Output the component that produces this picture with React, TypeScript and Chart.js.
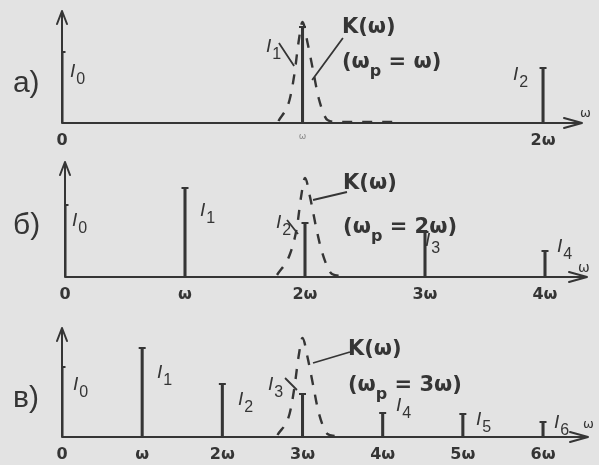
import React, { useEffect, useRef } from "react";
import { Chart, registerables } from "chart.js";

Chart.register(...registerables);

// ---- spectrum data (harmonic number, relative amplitude) ----
// а) circuit tuned to the fundamental
const harmonicsA = [0, 1, 2];
const amplitudesA = [71, 96, 55];
const tickLabelsA = ["0", "ω", "2ω"];
const resonanceFreqA = [0.9, 0.946, 0.967, 0.983, 1.0, 1.021, 1.046, 1.067, 1.104, 1.146, 1.39];
const resonanceGainA = [2, 23, 50, 80, 101, 80, 50, 25, 3, 1, 1];

// б) circuit tuned to the second harmonic
const harmonicsB = [0, 1, 2, 3, 4];
const amplitudesB = [72, 89, 54, 45, 26];
const tickLabelsB = ["0", "ω", "2ω", "3ω", "4ω"];
const resonanceFreqB = [1.767, 1.875, 1.933, 1.967, 2.0, 2.042, 2.092, 2.142, 2.225, 2.3];
const resonanceGainB = [2, 23, 50, 80, 99, 80, 50, 25, 3, 1];

// в) circuit tuned to the third harmonic
const harmonicsC = [0, 1, 2, 3, 4, 5, 6];
const amplitudesC = [70, 89, 53, 43, 24, 23, 15];
const tickLabelsC = ["0", "ω", "2ω", "3ω", "4ω", "5ω", "6ω"];
const resonanceFreqC = [2.688, 2.838, 2.9, 2.95, 3.0, 3.062, 3.137, 3.2, 3.312, 3.4];
const resonanceGainC = [2, 23, 50, 80, 99, 80, 50, 25, 3, 1];

const INK = "#353535";
const BG = "#e3e3e3";
const SANS = "'Liberation Sans', Arial, sans-serif";
const WIDE = "'DejaVu Sans', 'Liberation Sans', sans-serif";

type Seg = { t: string; sub?: boolean; it?: boolean };
type TextItem = {
  u: number;
  h: number;
  segs: Seg[];
  size: number;
  family: string;
  weight: string;
  subRatio: number;
};
type Leader = [number, number, number, number];

type PanelCfg = {
  top: number;
  height: number;
  padding: { left: number; right: number; top: number; bottom: number };
  xMax: number;
  yArrow: number;
  harmonics: number[];
  amplitudes: number[];
  tickLabels: string[];
  kFreq: number[];
  kGain: number[];
  faintTick: number;
  texts: TextItem[];
  leaders: Leader[];
};

// line label "I" with its harmonic index as subscript
const I = (u: number, h: number, n: string): TextItem => ({
  u,
  h,
  segs: [{ t: "I", it: true }, { t: n, sub: true }],
  size: 19,
  family: SANS,
  weight: "normal",
  subRatio: 0.85,
});
const T = (
  u: number,
  h: number,
  segs: Seg[],
  size: number,
  family = WIDE,
  weight = "bold"
): TextItem => ({ u, h, segs, size, family, weight, subRatio: 0.75 });

const panels: PanelCfg[] = [
  {
    top: 0,
    height: 155,
    padding: { left: 62, right: 17, top: 8, bottom: 6 },
    xMax: 2.162,
    yArrow: 112,
    harmonics: harmonicsA,
    amplitudes: amplitudesA,
    tickLabels: tickLabelsA,
    kFreq: resonanceFreqA,
    kGain: resonanceGainA,
    faintTick: 1,
    texts: [
      T(-0.204, 31, [{ t: "а)" }], 30, SANS, "normal"),
      I(0.033, 46, "0"),
      I(0.848, 71, "1"),
      I(1.875, 43, "2"),
      T(1.164, 90, [{ t: "K(ω)" }], 21),
      T(1.164, 55, [{ t: "(ω" }, { t: "p", sub: true }, { t: " = ω)" }], 21),
      T(2.154, 6, [{ t: "ω" }], 13, WIDE, "normal"),
    ],
    leaders: [
      [1.168, 85, 1.04, 43],
      [0.902, 80, 0.965, 57],
    ],
  },
  {
    top: 155,
    height: 155,
    padding: { left: 65, right: 12, top: 7, bottom: 7 },
    xMax: 4.35,
    yArrow: 115,
    harmonics: harmonicsB,
    amplitudes: amplitudesB,
    tickLabels: tickLabelsB,
    kFreq: resonanceFreqB,
    kGain: resonanceGainB,
    faintTick: -1,
    texts: [
      T(-0.433, 43, [{ t: "б)" }], 30, SANS, "normal"),
      I(0.058, 51, "0"),
      I(1.125, 61, "1"),
      I(1.758, 49, "2"),
      I(3.0, 31, "3"),
      I(4.1, 25, "4"),
      T(2.317, 88, [{ t: "K(ω)" }], 21),
      T(2.317, 44, [{ t: "(ω" }, { t: "p", sub: true }, { t: " = 2ω)" }], 21),
      T(4.275, 5, [{ t: "ω" }], 14, WIDE, "normal"),
    ],
    leaders: [
      [2.35, 85, 2.067, 77],
      [1.85, 57, 1.942, 43],
    ],
  },
  {
    top: 310,
    height: 155,
    padding: { left: 62, right: 11, top: 12, bottom: 2 },
    xMax: 6.561,
    yArrow: 109,
    harmonics: harmonicsC,
    amplitudes: amplitudesC,
    tickLabels: tickLabelsC,
    kFreq: resonanceFreqC,
    kGain: resonanceGainC,
    faintTick: -1,
    texts: [
      T(-0.611, 30, [{ t: "в)" }], 30, SANS, "normal"),
      I(0.137, 47, "0"),
      I(1.185, 59, "1"),
      I(2.195, 32, "2"),
      I(2.57, 47, "3"),
      I(4.166, 26, "4"),
      I(5.164, 12, "5"),
      I(6.137, 9, "6"),
      T(3.567, 82, [{ t: "K(ω)" }], 21),
      T(3.567, 46, [{ t: "(ω" }, { t: "p", sub: true }, { t: " = 3ω)" }], 21),
      T(6.5, 9, [{ t: "ω" }], 13, WIDE, "normal"),
    ],
    leaders: [
      [3.592, 85, 3.131, 74],
      [2.782, 59, 2.931, 47],
    ],
  },
];

function drawSegs(ctx: CanvasRenderingContext2D, x: number, y: number, item: TextItem) {
  let cx = x;
  for (const s of item.segs) {
    const fs = s.sub ? Math.round(item.size * item.subRatio) : item.size;
    ctx.font = `${s.it ? "italic " : ""}${item.weight} ${fs}px ${item.family}`;
    ctx.fillText(s.t, cx, s.sub ? y + item.size * 0.38 : y);
    cx += ctx.measureText(s.t).width + (s.it ? 1 : 0);
  }
}

function makeDecor(cfg: PanelCfg) {
  return {
    id: "decor",
    beforeDatasetsDraw(chart: any) {
      const { ctx } = chart;
      const xs = chart.scales.x;
      const ys = chart.scales.y;
      const x0 = xs.getPixelForValue(0);
      const y0 = ys.getPixelForValue(0);
      const xEnd = xs.getPixelForValue(cfg.xMax);
      const yTop = ys.getPixelForValue(cfg.yArrow);
      ctx.save();
      ctx.strokeStyle = INK;
      ctx.lineWidth = 2;
      ctx.lineCap = "round";
      ctx.lineJoin = "round";
      ctx.beginPath();
      ctx.moveTo(x0, y0);
      ctx.lineTo(xEnd, y0);
      ctx.moveTo(x0, y0);
      ctx.lineTo(x0, yTop);
      // arrow heads
      ctx.moveTo(x0 - 5, yTop + 13);
      ctx.lineTo(x0, yTop);
      ctx.lineTo(x0 + 5, yTop + 13);
      ctx.moveTo(xEnd - 18, y0 - 5);
      ctx.lineTo(xEnd, y0);
      ctx.lineTo(xEnd - 18, y0 + 5);
      ctx.stroke();
      ctx.restore();
    },
    afterDatasetsDraw(chart: any) {
      const { ctx } = chart;
      const xs = chart.scales.x;
      const ys = chart.scales.y;
      ctx.save();
      ctx.strokeStyle = INK;
      ctx.lineWidth = 1.8;
      ctx.beginPath();
      for (const [u1, h1, u2, h2] of cfg.leaders) {
        ctx.moveTo(xs.getPixelForValue(u1), ys.getPixelForValue(h1));
        ctx.lineTo(xs.getPixelForValue(u2), ys.getPixelForValue(h2));
      }
      ctx.stroke();
      ctx.fillStyle = INK;
      ctx.textBaseline = "alphabetic";
      ctx.textAlign = "left";
      for (const item of cfg.texts) {
        drawSegs(ctx, xs.getPixelForValue(item.u), ys.getPixelForValue(item.h), item);
      }
      ctx.restore();
    },
  };
}

function Panel({ cfg }: { cfg: PanelCfg }) {
  const ref = useRef<HTMLCanvasElement | null>(null);
  useEffect(() => {
    if (!ref.current) return;
    const points = cfg.harmonics.map((x, i) => ({ x, y: cfg.amplitudes[i] }));
    const chart = new Chart(ref.current, {
      type: "bar",
      data: {
        datasets: [
          {
            type: "line",
            data: cfg.kFreq.map((x, i) => ({ x, y: cfg.kGain[i] })),
            borderColor: INK,
            borderWidth: 2.4,
            borderDash: [10, 10],
            pointRadius: 0,
            cubicInterpolationMode: "monotone",
            fill: false,
            order: 3,
          } as any,
          {
            type: "bar",
            data: points,
            backgroundColor: INK,
            barThickness: 2.4,
            order: 2,
          } as any,
          {
            type: "scatter",
            data: points,
            pointStyle: "line",
            pointRadius: 3.5,
            borderColor: INK,
            borderWidth: 2,
            order: 1,
          } as any,
        ],
      },
      options: {
        responsive: false,
        animation: false,
        devicePixelRatio: 1,
        events: [],
        layout: { padding: cfg.padding },
        plugins: { legend: { display: false }, tooltip: { enabled: false } },
        scales: {
          x: {
            type: "linear",
            min: 0,
            max: cfg.xMax,
            offset: false,
            grid: { display: false, drawTicks: false },
            border: { display: false },
            afterBuildTicks: (s: any) => {
              s.ticks = cfg.harmonics.map((v) => ({ value: v }));
            },
            afterFit: (s: any) => {
              s.height = 26;
            },
            ticks: {
              autoSkip: false,
              maxRotation: 0,
              padding: 8,
              callback: (_v: any, i: number) => cfg.tickLabels[i],
              color: (c: any) => (c.index === cfg.faintTick ? "#8a8a8a" : INK),
              font: (c: any) => ({
                family: WIDE,
                size: c.index === cfg.faintTick ? 9 : 16,
                weight: c.index === cfg.faintTick ? "normal" : "bold",
              }),
            },
          },
          y: { type: "linear", min: 0, max: 115, display: false },
        },
      } as any,
      plugins: [makeDecor(cfg)],
    });
    return () => chart.destroy();
  }, [cfg]);
  return (
    <canvas
      ref={ref}
      width={599}
      height={cfg.height}
      style={{ position: "absolute", left: 0, top: cfg.top, width: 599, height: cfg.height }}
    />
  );
}

export default function App() {
  return (
    <div
      style={{
        position: "fixed",
        left: 0,
        top: 0,
        width: 599,
        height: 465,
        background: BG,
        overflow: "hidden",
      }}
    >
      {panels.map((p, i) => (
        <Panel key={i} cfg={p} />
      ))}
    </div>
  );
}
